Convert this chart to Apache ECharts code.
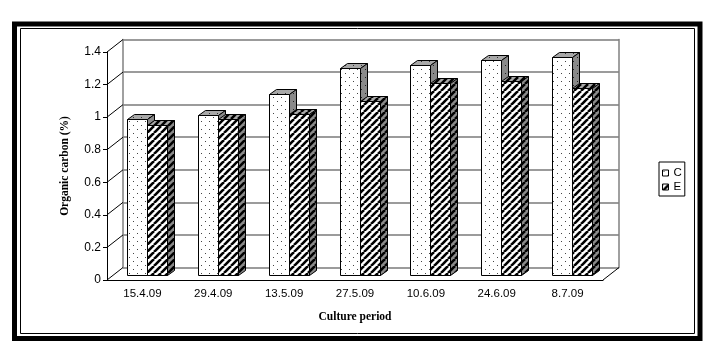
<!DOCTYPE html>
<html><head><meta charset="utf-8">
<script src="https://cdn.jsdelivr.net/npm/echarts@6/dist/echarts.min.js"></script>
<style>html,body{margin:0;padding:0;background:#fff}#c{width:719px;height:344px}</style>
</head><body><div id="c"></div>
<script>
const categories = ['15.4.09','29.4.09','13.5.09','27.5.09','10.6.09','24.6.09','8.7.09'];
const seriesC = [0.96, 0.98, 1.11, 1.27, 1.29, 1.32, 1.34];
const seriesE = [0.92, 0.96, 0.99, 1.07, 1.18, 1.19, 1.15];
const yTicks = [0, 0.2, 0.4, 0.6, 0.8, 1.0, 1.2, 1.4];

function makePattern(bg, kind, ink) {
  const c = document.createElement('canvas');
  if (kind === 'dots') {
    c.width = 8; c.height = 8;
    const g = c.getContext('2d');
    g.fillStyle = bg; g.fillRect(0, 0, 8, 8);
    g.fillStyle = ink; g.fillRect(1, 1, 1, 1); g.fillRect(5, 5, 1, 1);
  } else {
    c.width = 7; c.height = 7;
    const g = c.getContext('2d');
    g.fillStyle = bg; g.fillRect(0, 0, 7, 7);
    g.strokeStyle = ink; g.lineWidth = 2.6;
    for (const k of [-7, 0, 7]) { g.beginPath(); g.moveTo(k, 7); g.lineTo(k + 7, 0); g.stroke(); }
  }
  return { image: c, repeat: 'repeat' };
}
const dotFront = makePattern('#ffffff', 'dots', '#444');
const dotTop = makePattern('#a8a8a8', 'dots', '#333');
const dotSide = makePattern('#8a8a8a', 'dots', '#222');
const hatchFront = makePattern('#ffffff', 'hatch', '#000');
const hatchTop = makePattern('#a8a8a8', 'hatch', '#000');
const hatchSide = makePattern('#8a8a8a', 'hatch', '#000');

const DX = 7, DY = -5, BW = 20;
function barRender(left, front, top, side) {
  return function (params, api) {
    const v = api.value(1);
    const base = api.coord([api.value(0), 0]);
    const tp = api.coord([api.value(0), v]);
    const x0 = Math.round(base[0] + (left ? -BW : 0)) + 0.5;
    const x1 = x0 + BW;
    const yb = Math.round(base[1]) + 0.5, yt = Math.round(tp[1]) + 0.5;
    const st = { stroke: '#000', lineWidth: 1 };
    return { type: 'group', children: [
      { type: 'rect', shape: { x: x0, y: yt, width: BW, height: yb - yt }, style: Object.assign({ fill: front }, st) },
      { type: 'polygon', shape: { points: [[x0, yt], [x0 + DX, yt + DY], [x1 + DX, yt + DY], [x1, yt]] }, style: Object.assign({ fill: top }, st) },
      { type: 'polygon', shape: { points: [[x1, yt], [x1 + DX, yt + DY], [x1 + DX, yb + DY], [x1, yb]] }, style: Object.assign({ fill: side }, st) }
    ] };
  };
}

const sansFont = 'Liberation Sans';
const serifFont = 'Liberation Serif';
const chart = echarts.init(document.getElementById('c'));
chart.setOption({
  animation: false,
  backgroundColor: '#fff',
  graphic: [
    { type: 'rect', shape: { x: 14.5, y: 24, width: 685.5, height: 314.5 }, style: { fill: 'none', stroke: '#000', lineWidth: 5 }, z: 10 },
    { type: 'rect', shape: { x: 20.5, y: 28.5, width: 674, height: 305 }, style: { fill: 'none', stroke: '#000', lineWidth: 1 }, z: 10 }
  ],
  legend: {
    orient: 'vertical', left: 659, top: 162, itemWidth: 6, itemHeight: 6, itemGap: 2,
    padding: [5, 3, 3, 3], borderColor: '#000', borderWidth: 1,
    textStyle: { fontFamily: sansFont, fontSize: 11.5, color: '#000', lineHeight: 10 },
    data: [
      { name: 'C', icon: 'rect', itemStyle: { color: dotFront, borderColor: '#000', borderWidth: 1 } },
      { name: 'E', icon: 'rect', itemStyle: { color: hatchFront, borderColor: '#000', borderWidth: 1 } }
    ]
  },
  grid: [
    { left: 107, right: 116, top: 52, bottom: 64 },
    { left: 123, right: 100, top: 39.5, bottom: 76.5 },
    { left: 111.5, right: 111.5, top: 47, bottom: 69 }
  ],
  xAxis: [
    { gridIndex: 0, type: 'category', data: categories,
      axisLine: { lineStyle: { color: '#000', width: 1 } },
      axisTick: { length: 4, lineStyle: { color: '#000' } },
      axisLabel: { margin: 8, fontSize: 11.5, color: '#000', fontFamily: sansFont },
      name: 'Culture period', nameLocation: 'middle', nameGap: 31,
      nameTextStyle: { fontFamily: serifFont, fontWeight: 'bold', fontSize: 11.5, color: '#000' } },
    { gridIndex: 1, type: 'category', data: categories, show: false },
    { gridIndex: 2, type: 'category', data: categories, show: false }
  ],
  yAxis: [
    { gridIndex: 0, type: 'value', min: 0, max: 1.4, interval: 0.2,
      axisLine: { show: true, lineStyle: { color: '#000' } },
      axisTick: { show: true, length: 4, lineStyle: { color: '#000' } },
      axisLabel: { margin: 6, fontSize: 12, color: '#000', fontFamily: sansFont },
      splitLine: { show: false },
      name: 'Organic carbon (%)', nameLocation: 'middle', nameGap: 36, nameRotate: 90,
      nameTextStyle: { fontFamily: serifFont, fontWeight: 'bold', fontSize: 11.5, color: '#000' } },
    { gridIndex: 1, type: 'value', min: 0, max: 1.4, interval: 0.2,
      axisLine: { show: true, lineStyle: { color: '#808080', width: 1.5 } },
      axisTick: { show: false }, axisLabel: { show: false },
      splitLine: { show: true, lineStyle: { color: '#7a7a7a', width: 1.6 } } },
    { gridIndex: 1, type: 'value', min: 0, max: 1.4, interval: 0.2, position: 'right',
      axisLine: { show: true, lineStyle: { color: '#808080', width: 1.5 } },
      axisTick: { show: false }, axisLabel: { show: false }, splitLine: { show: false } },
    { gridIndex: 2, type: 'value', min: 0, max: 1.4, interval: 0.2, show: false }
  ],
  series: [
    { type: 'custom', name: 'frame', xAxisIndex: 0, yAxisIndex: 0, silent: true, z: 1,
      data: yTicks.map(v => [0, v]), encode: { x: 0, y: 1 },
      renderItem: function (params, api) {
        const cs = params.coordSys;
        const y = api.coord([0, api.value(1)])[1];
        const ch = [{ type: 'line', shape: { x1: cs.x, y1: y, x2: cs.x + 16, y2: y - 12.5 }, style: { stroke: '#000', lineWidth: 1 } }];
        if (api.value(1) === 0) {
          ch.push({ type: 'line', shape: { x1: cs.x + cs.width, y1: y, x2: cs.x + cs.width + 16, y2: y - 12.5 }, style: { stroke: '#000', lineWidth: 1 } });
        }
        return { type: 'group', children: ch };
      } },
    { type: 'custom', name: 'C', xAxisIndex: 2, yAxisIndex: 3, z: 3,
      itemStyle: { color: dotFront },
      data: seriesC.map((v, i) => [i, v]), encode: { x: 0, y: 1 },
      renderItem: barRender(true, dotFront, dotTop, dotSide) },
    { type: 'custom', name: 'E', xAxisIndex: 2, yAxisIndex: 3, z: 4,
      itemStyle: { color: hatchFront },
      data: seriesE.map((v, i) => [i, v]), encode: { x: 0, y: 1 },
      renderItem: barRender(false, hatchFront, hatchTop, hatchSide) }
  ]
});
</script>
</body></html>
